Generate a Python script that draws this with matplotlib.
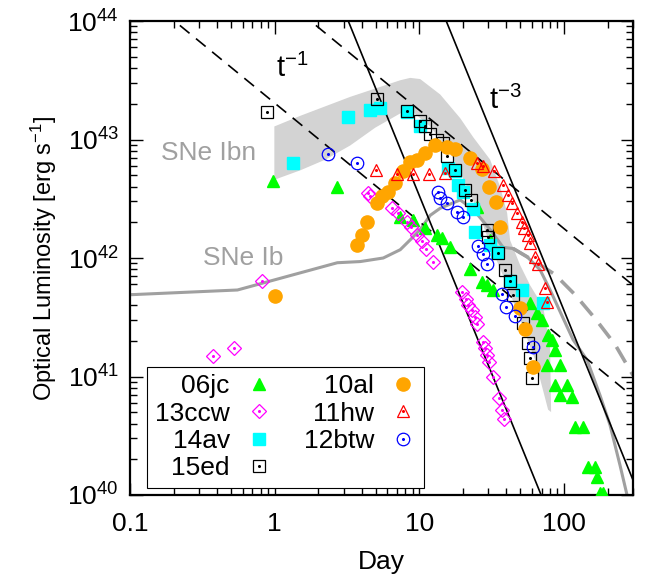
import matplotlib
matplotlib.use('Agg')
import matplotlib.pyplot as plt
import numpy as np

plt.rcParams['font.family'] = ['Liberation Sans', 'DejaVu Sans']
plt.rcParams['mathtext.default'] = 'regular'

# light curves: day since explosion, log10 of optical luminosity [erg/s]
jc06_day = [0.979, 2.710, 7.38, 9.08, 10.98, 13.30, 14.39, 16.34, 22.47, 25.11,
            27.19, 29.44, 30.87, 32.39, 58.33, 65.20, 70.60, 77.67, 82.76, 86.80,
            76.44, 93.99, 86.80, 105.1, 93.99, 113.7, 119.3, 135.5, 146.7, 164.0,
            169.3, 177.6, 186.2]
jc06_logL = [42.65, 42.60, 42.35, 42.32, 42.25, 42.19, 42.17, 42.09, 41.91, 42.43,
             41.80, 41.77, 42.15, 41.73, 41.62, 41.54, 41.48, 41.35, 41.31, 41.22,
             41.10, 41.10, 40.93, 40.93, 40.84, 40.83, 40.57, 40.57, 40.24, 40.24,
             40.15, 40.02, 40.02]

ccw13_day = [0.377, 0.527, 0.822, 4.438, 4.582, 6.500, 7.15, 8.25, 8.79, 9.67,
             10.47, 11.16, 12.47, 19.79, 21.09, 21.77, 23.19, 24.32, 25.11, 27.63,
             28.52, 29.44, 30.39, 32.39, 35.63, 37.37, 38.57]
ccw13_logL = [41.17, 41.24, 41.81, 42.55, 42.52, 42.42, 42.38, 42.30, 42.26, 42.19,
              42.14, 42.08, 41.97, 41.71, 41.65, 41.60, 41.56, 41.50, 41.44, 41.29,
              41.24, 41.18, 41.12, 41.00, 40.82, 40.72, 40.64]

av14_day = [1.346, 3.228, 4.582, 5.370, 8.25, 10.14, 15.83, 17.70, 18.56, 20.11,
            23.56, 24.32, 30.87, 34.51, 42.43, 51.37, 71.73]
av14_logL = [42.80, 43.19, 43.25, 43.27, 43.23, 43.11, 42.76, 42.73, 42.62, 42.56,
             42.41, 42.22, 42.11, 42.05, 41.81, 41.73, 41.62]

ed15_day = [0.891, 5.120, 8.25, 10.14, 10.98, 11.89, 13.30, 14.62, 15.58, 17.70,
            20.75, 22.83, 29.44, 29.91, 35.07, 39.19, 42.43, 44.51, 52.19, 56.50,
            58.33, 60.22]
ed15_logL = [43.23, 43.34, 43.24, 43.16, 43.11, 43.05, 43.00, 42.97, 42.86, 42.74,
             42.57, 42.49, 42.24, 42.18, 42.04, 41.90, 41.81, 41.69, 41.45, 41.28,
             41.16, 40.99]

al10_day = [1.011, 3.725, 4.034, 4.369, 5.120, 5.543, 6.100, 6.818, 7.74, 8.65,
            9.67, 10.98, 12.88, 15.58, 17.70, 22.47, 27.19, 30.39, 33.97, 36.20,
            49.76, 53.87, 61.18]
al10_logL = [41.68, 42.11, 42.19, 42.30, 42.46, 42.52, 42.56, 42.63, 42.73, 42.81,
             42.83, 42.89, 42.95, 42.94, 42.92, 42.84, 42.75, 42.60, 42.47, 42.26,
             41.58, 41.40, 41.08]

hw11_day = [5.039, 7.04, 9.08, 11.70, 15.10, 25.11, 27.63, 32.91, 37.96, 41.11,
            43.81, 47.44, 51.37, 53.03, 56.50, 58.33, 63.16, 66.25, 74.05, 76.44]
hw11_logL = [42.74, 42.71, 42.71, 42.71, 42.72, 42.80, 42.78, 42.73, 42.62, 42.53,
             42.46, 42.38, 42.30, 42.25, 42.19, 42.13, 42.01, 41.95, 41.75, 41.63]

btw12_day = [2.349, 3.725, 13.51, 13.94, 15.58, 18.27, 20.11, 25.51, 27.63, 29.44,
             37.37, 39.82, 45.95, 61.18]
btw12_logL = [42.88, 42.80, 42.56, 42.51, 42.46, 42.39, 42.35, 42.10, 42.03, 41.95,
              41.70, 41.59, 41.51, 41.25]

# SNe Ibn template band (upper and lower edge)
ibn_up_day = [0.995, 1.505, 2.239, 3.333, 4.960, 7.38, 8.65, 10.14, 13.94, 19.17,
              23.56, 30.87, 36.20, 40.46, 42.43, 49.76, 58.33, 71.73, 80.17, 81.46]
ibn_up_logL = [43.11, 43.20, 43.28, 43.36, 43.43, 43.50, 43.52, 43.51, 43.38, 43.18,
               43.02, 42.83, 42.60, 42.38, 42.15, 41.94, 41.77, 41.59, 41.25, 40.70]
ibn_lo_day = [0.995, 1.505, 2.239, 3.333, 4.960, 7.38, 8.65, 11.89, 16.34, 21.42,
              26.34, 30.87, 39.19, 49.76, 63.16, 77.67]
ibn_lo_logL = [42.66, 42.74, 42.83, 42.95, 43.10, 43.22, 43.25, 43.11, 42.89, 42.60,
               42.35, 42.11, 41.81, 41.48, 41.14, 40.72]

# SNe Ib template
ib_day = [0.1, 0.553, 2.710, 3.908, 5.632, 7.38, 8.93, 10.14, 11.89, 13.94, 19.17,
          23.56, 30.87, 37.96, 44.51, 55.61, 68.39, 80.17, 115.6, 144.4, 177.6,
          208.1, 244.1, 272.8]
ib_logL = [41.69, 41.73, 41.96, 41.97, 42.00, 42.07, 42.17, 42.24, 42.36, 42.42, 42.49,
           42.41, 42.24, 42.09, 42.08, 42.01, 41.90, 41.73, 41.31, 41.14, 40.84,
           40.59, 40.25, 40.00]
ib2_day = [44.51, 63.16, 86.80, 119.3, 164.0, 225.4, 300.0]
ib2_logL = [42.08, 41.97, 41.86, 41.69, 41.49, 41.27, 41.01]

# power-law guides: L = norm * t^-n
pl_norm = [2.03e43, 1.77e44, 3.36e45, 3.61e47]
pl_index = [1, 1, 3, 3]

fig = plt.figure(figsize=(6.47, 5.86), dpi=100)
ax = fig.add_axes([130/647, 91/586, 503/647, 474/586])
ax.set_xscale('log')
ax.set_yscale('log')

ax.fill(np.r_[ibn_up_day, ibn_lo_day[::-1]],
        10**np.r_[ibn_up_logL, ibn_lo_logL[::-1]],
        color='#d3d3d3', lw=0, zorder=1)
ax.plot(ib_day, 10**np.array(ib_logL), color='#a0a0a0', lw=2.2, zorder=2)
ax.plot(ib2_day, 10**np.array(ib2_logL), color='#a0a0a0', lw=2.6,
        dashes=(5, 3), zorder=2)

t = np.array([0.1, 300.0])
for norm, n in zip(pl_norm, pl_index):
    if n == 1:
        ax.plot(t, norm * t**-n, color='k', lw=1.2, dashes=(7.5, 5), zorder=3)
    else:
        ax.plot(t, norm * t**-n, color='k', lw=1.2, zorder=3)

series = [
    (jc06_day, jc06_logL, '06jc', '^', '#00ff00', True, 8.5),
    (ccw13_day, ccw13_logL, '13ccw', 'D', '#ff00ff', False, 7.0),
    (av14_day, av14_logL, '14av', 's', '#00ffff', True, 8.5),
    (ed15_day, ed15_logL, '15ed', 's', 'black', False, 8.0),
    (al10_day, al10_logL, '10al', 'o', '#ffa500', True, 9.5),
    (hw11_day, hw11_logL, '11hw', '^', '#ff0000', False, 9.0),
    (btw12_day, btw12_logL, '12btw', 'o', '#0000ff', False, 9.0),
]

handles = []
labels = []
for k, (d, lg, name, m, c, filled, ms) in enumerate(series):
    L = 10**np.array(lg)
    z = 4 + k
    if filled:
        h = ax.plot(d, L, ls='none', marker=m, ms=ms, color=c, mec=c, zorder=z)[0]
        handles.append(h)
    else:
        h = ax.plot(d, L, ls='none', marker=m, ms=ms, mfc='none', mec=c,
                    mew=0.9, zorder=z)[0]
        dot = ax.plot(d, L, ls='none', marker='o', ms=1.2, color=c, zorder=z)[0]
        handles.append((h, dot))
    labels.append(name)

ax.text(1.325, 10**43.60, r'$t^{-1}$', fontsize=21, ha='center', va='center')
ax.text(39.2, 10**43.33, r'$t^{-3}$', fontsize=21, ha='center', va='center')
ax.text(0.348, 10**42.89, 'SNe Ibn', fontsize=19, color='#a0a0a0',
        ha='center', va='center')
ax.text(0.608, 10**42.0, 'SNe Ib', fontsize=19, color='#a0a0a0',
        ha='center', va='center')

ax.set_xlim(0.1, 300)
ax.set_ylim(1e40, 1e44)
ax.set_xticks([0.1, 1, 10, 100])
ax.set_xticklabels(['0.1', '1', '10', '100'])
ax.tick_params(which='both', direction='in', top=True, right=True,
               labelsize=19, width=1.0)
ax.tick_params(which='major', length=9, pad=8)
ax.tick_params(axis='x', which='major', pad=12)
ax.tick_params(which='minor', length=5)
for s in ax.spines.values():
    s.set_linewidth(1.6)

ax.set_xlabel('Day', fontsize=19, labelpad=10)
ax.set_ylabel(r'Optical Luminosity [erg s$^{-1}$]', fontsize=17, labelpad=6)

leg = ax.legend(handles, labels, ncol=2, markerfirst=False, loc='lower left',
                bbox_to_anchor=(0.034, 0.015), borderaxespad=0, fancybox=False,
                edgecolor='black', framealpha=1, fontsize=19, handlelength=1.0,
                handletextpad=0.6, columnspacing=1.2, labelspacing=0.12,
                borderpad=0.3)
leg.get_frame().set_linewidth(0.8)
leg.set_zorder(20)

fig.savefig('out.png', dpi=100)
